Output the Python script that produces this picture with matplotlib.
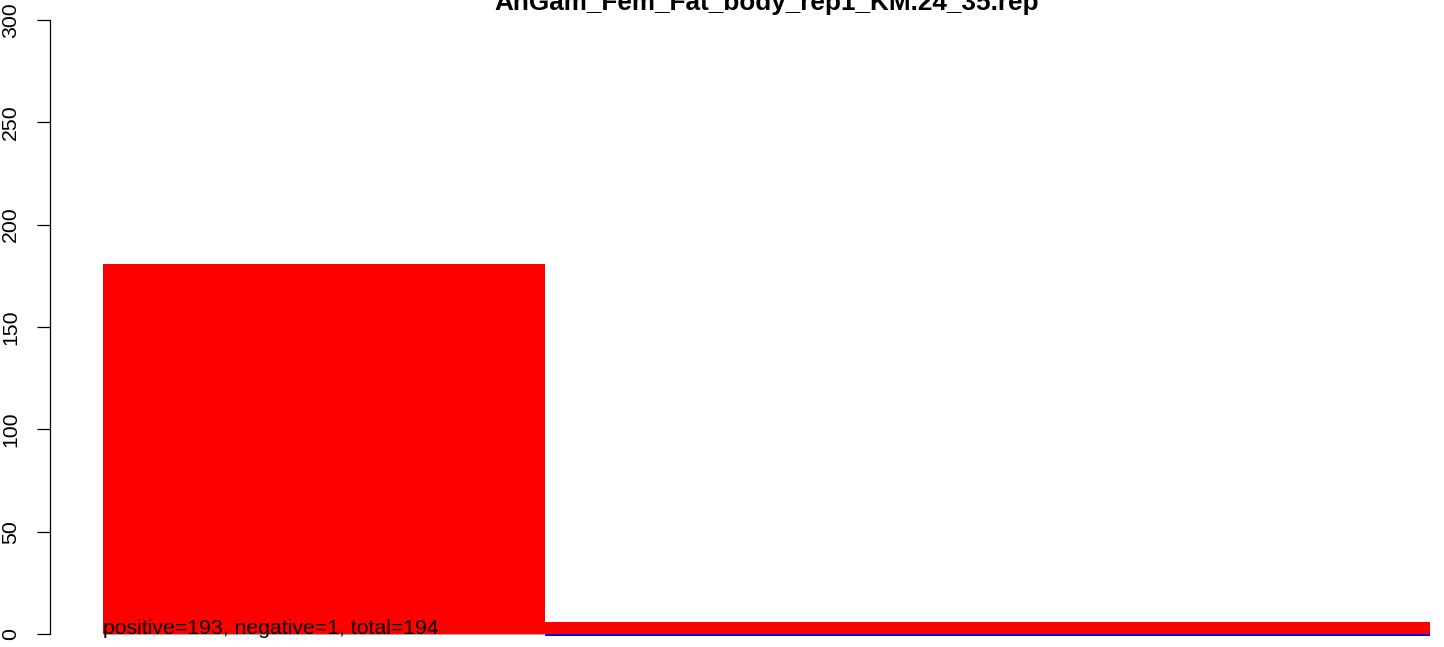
# barplot of positive / negative counts for one rep file

import matplotlib.pyplot as plt

title = 'AnGam_Fem_Fat_body_rep1_KM.24_35.rep'
bar_left = [0, 1]
bar_width = [1, 2]
positive = [181, 6]
negative = [0, 1]
n_pos, n_neg = 193, 1
yticks = [0, 50, 100, 150, 200, 250, 300]

plt.rcParams['font.family'] = ['Liberation Sans', 'DejaVu Sans']

W, H = 1444, 647
fig = plt.figure(figsize=(W / 100, H / 100), dpi=100)

# plot region runs past the picture edges (cropped R device)
x0, x1 = 50, 1483
y_top, y_bot = -4.5, 658.5
ax = fig.add_axes([x0 / W, (H - y_bot) / H, (x1 - x0) / W, (y_bot - y_top) / H])
ax.set_xlim(-0.12, 3.12)
ax.set_ylim(-12, 312)

ax.bar(bar_left, positive, width=bar_width, align='edge', color='#ff0000', linewidth=0)
ax.bar(bar_left, [-v for v in negative], width=bar_width, align='edge',
       color='#0000ff', linewidth=0)
empty = [i for i, v in enumerate(negative) if v == 0]
ax.hlines([0] * len(empty), [bar_left[i] for i in empty],
          [bar_left[i] + bar_width[i] for i in empty], color='#999999', linewidth=0.6)

ax.text(bar_left[0], 0,
        f'positive={n_pos}, negative={n_neg}, total={n_pos + n_neg}',
        ha='left', va='baseline', fontsize=15.3)

for s in ['top', 'right', 'bottom']:
    ax.spines[s].set_visible(False)
ax.spines['left'].set_bounds(0, 300)
ax.spines['left'].set_linewidth(0.9)
ax.set_xticks([])
ax.set_yticks(yticks)
ax.set_yticklabels([str(t) for t in yticks], rotation=90, va='center', fontsize=15.3)
ax.tick_params(axis='y', length=9.4, width=0.9, pad=12)

fig.text(767 / W, 1 - 10 / H, title, ha='center', va='baseline',
         fontsize=18.8, fontweight='bold')

fig.savefig('out.png', dpi=100)
